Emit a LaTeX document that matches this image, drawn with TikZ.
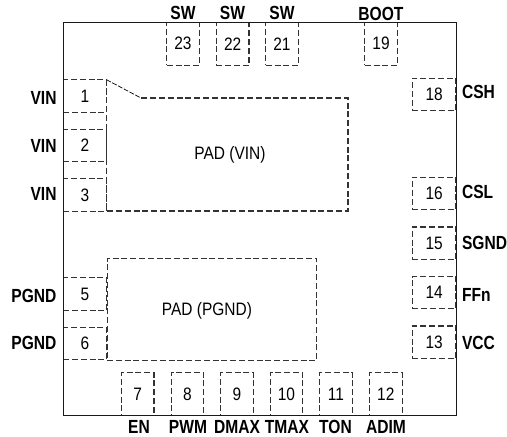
\documentclass[tikz,border=0pt]{standalone}
\usepackage{fontspec}
\usepackage{graphicx}
\setmainfont{Liberation Sans}
\newcommand{\pinnum}[1]{\scalebox{0.86}[1]{\fontsize{18}{18}\selectfont #1}}
\newcommand{\pinname}[1]{\scalebox{0.82}[1]{\fontsize{19}{19}\selectfont\bfseries #1}}
\tikzset{
  dashline/.style={draw=black!80,line width=1.1pt,dash pattern=on 6pt off 2.8pt},
  hpin/.style={dashline,minimum width=43.5pt,minimum height=32.3pt,inner sep=0pt,outer sep=0pt},
  vpin/.style={dashline,minimum width=32.5pt,minimum height=43pt,inner sep=0pt,outer sep=0pt},
  plabel/.style={inner sep=0pt,outer sep=0pt},
  padtext/.style={inner sep=0pt,outer sep=0pt},
  outline/.style={draw=black!90,line width=1.5pt}
}
\begin{document}
\begin{tikzpicture}[x=1pt,y=-1pt]
\useasboundingbox (0,0) rectangle (507,437);
% package outline
\node[draw=none,minimum width=0pt,inner sep=0pt] (pkgA) at (63.3,22.5) {};
\node[draw=none,minimum width=0pt,inner sep=0pt] (pkgB) at (456.7,415.7) {};
% exposed pads
\draw[dashline] (106.5,79.7) coordinate (c1) -- (106.5,211) -- (348,211) -- (348,98) -- (141,98) coordinate (c2);
\draw[black,line width=0.7pt,dash pattern=on 5pt off 1.5pt] (c1) -- (c2);
\node[dashline,minimum width=209.8pt,minimum height=102.3pt,inner sep=0pt,anchor=north west] (pgndpad) at (106.5,257.7) {};
\node[padtext] (padvin) at (230,155) {\pinnum{PAD (VIN)}};
\node[padtext] (padpgnd) at (207,310.5) {\pinnum{PAD (PGND)}};
% left pins
\node[hpin] (p1) at (85,95.9) {\pinnum{1}};
\node[hpin] (p2) at (85,145.4) {\pinnum{2}};
\node[hpin] (p3) at (85,194.9) {\pinnum{3}};
\node[hpin] (p5) at (85,293.9) {\pinnum{5}};
\node[hpin] (p6) at (85,343.5) {\pinnum{6}};
% right pins
\node[hpin] (p18) at (434.2,94.5) {\pinnum{18}};
\node[hpin] (p16) at (434.2,193.5) {\pinnum{16}};
\node[hpin] (p15) at (434.2,243.1) {\pinnum{15}};
\node[hpin] (p14) at (434.2,292.6) {\pinnum{14}};
\node[hpin] (p13) at (434.2,342.1) {\pinnum{13}};
% top pins
\node[vpin] (p23) at (183,43.8) {\pinnum{23}};
\node[vpin] (p22) at (232.7,43.8) {\pinnum{22}};
\node[vpin] (p21) at (282,43.8) {\pinnum{21}};
\node[vpin] (p19) at (381.1,43.8) {\pinnum{19}};
% bottom pins
\node[vpin] (p7) at (137.7,394) {\pinnum{7}};
\node[vpin] (p8) at (187.5,394) {\pinnum{8}};
\node[vpin] (p9) at (236.9,394) {\pinnum{9}};
\node[vpin] (p10) at (286.5,394) {\pinnum{10}};
\node[vpin] (p11) at (336,394) {\pinnum{11}};
\node[vpin] (p12) at (385.8,394) {\pinnum{12}};
\draw[outline] (pkgA.center) rectangle (pkgB.center);
% pin names
\node[plabel,anchor=east] (l1) at (56.5,97.5) {\pinname{VIN}};
\node[plabel,anchor=east] (l2) at (56.5,145.5) {\pinname{VIN}};
\node[plabel,anchor=east] (l3) at (56.5,194) {\pinname{VIN}};
\node[plabel,anchor=east] (l5) at (56.5,295.5) {\pinname{PGND}};
\node[plabel,anchor=east] (l6) at (56.5,342.5) {\pinname{PGND}};
\node[plabel,anchor=west] (l18) at (462,92) {\pinname{CSH}};
\node[plabel,anchor=west] (l16) at (462,191.5) {\pinname{CSL}};
\node[plabel,anchor=west] (l15) at (462,243) {\pinname{SGND}};
\node[plabel,anchor=west] (l14) at (462,294.5) {\pinname{FFn}};
\node[plabel,anchor=west] (l13) at (462,342.5) {\pinname{VCC}};
\node[plabel] (l23) at (183,12.5) {\pinname{SW}};
\node[plabel] (l22) at (232.5,12.5) {\pinname{SW}};
\node[plabel] (l21) at (282,12.5) {\pinname{SW}};
\node[plabel] (l19) at (381,13.5) {\pinname{BOOT}};
\node[plabel] (l7) at (139,427) {\pinname{EN}};
\node[plabel] (l8) at (188,427) {\pinname{PWM}};
\node[plabel] (l9) at (237,427) {\pinname{DMAX}};
\node[plabel] (l10) at (287,427) {\pinname{TMAX}};
\node[plabel] (l11) at (335.5,427) {\pinname{TON}};
\node[plabel] (l12) at (386,427) {\pinname{ADIM}};
\end{tikzpicture}
\end{document}
